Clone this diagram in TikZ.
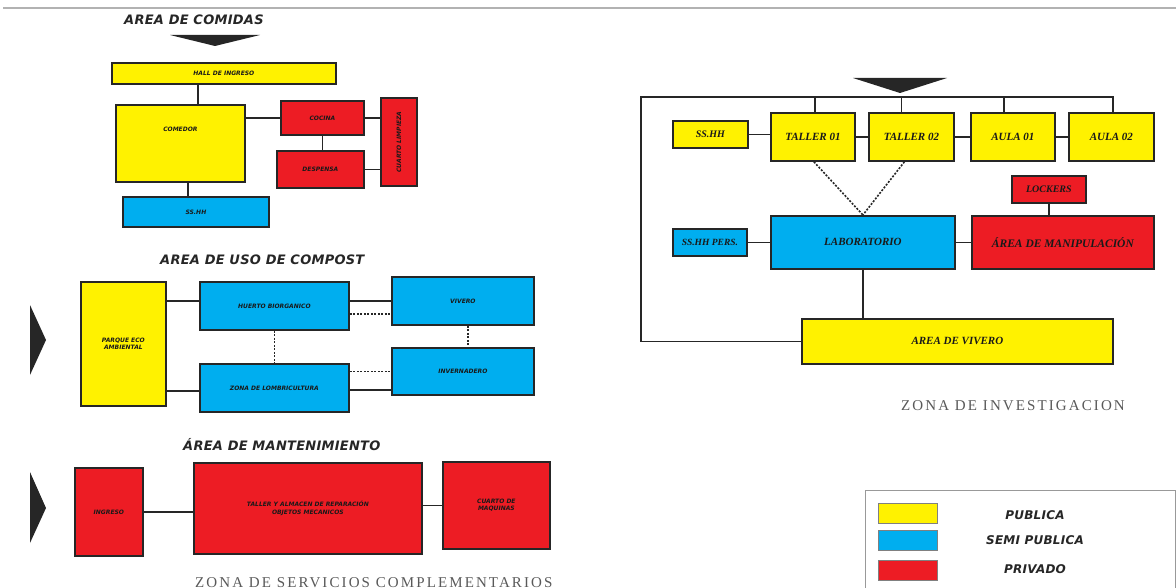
\documentclass[tikz,border=0pt]{standalone}
\usepackage{fontspec}
\setmainfont{Liberation Serif}
\newfontfamily\titlef[LetterSpace=2]{DejaVu Sans}
\newfontfamily\smallf{DejaVu Sans}
\newfontfamily\boxf{Liberation Serif}
\newfontfamily\capf[LetterSpace=14]{Liberation Serif}
\usetikzlibrary{calc}
\definecolor{pubY}{HTML}{FFF200}
\definecolor{semiB}{HTML}{00AEEF}
\definecolor{privR}{HTML}{ED1C24}
\tikzset{
  box/.style={draw=black!85, line width=1.8pt, inner sep=1pt, align=center, anchor=north west, text=black!90},
  pub/.style={box, fill=pubY},
  semi/.style={box, fill=semiB},
  priv/.style={box, fill=privR},
  tiny/.style={font=\smallf\bfseries\itshape\fontsize{6}{7.5}\selectfont},
  med/.style={font=\boxf\bfseries\itshape\fontsize{11}{12}\selectfont},
  conn/.style={draw=black!85, line width=1.5pt},
  dconn/.style={draw=black!85, line width=1.8pt, dash pattern=on 2pt off 1.5pt},
  tri/.style={fill=black!85, draw=none},
  ttl/.style={font=\titlef\bfseries\itshape\fontsize{13}{15}\selectfont, text=black!85, inner sep=0, anchor=base west},
  capt/.style={font=\capf\fontsize{15}{17}\selectfont, text=black!65, inner sep=0, anchor=base west},
  leg/.style={font=\titlef\bfseries\itshape\fontsize{12}{14}\selectfont, text=black!85, inner sep=0},
  swatch/.style={draw=black!50, line width=1pt, anchor=north west, minimum width=59pt, minimum height=20pt, inner sep=0}
}
\begin{document}
\begin{tikzpicture}[x=1pt,y=-1pt]
\useasboundingbox (0,0) rectangle (1176,588);
% top rule
\draw[black!30, line width=1.5pt] (3,8) -- (1176,8);

% ---------- AREA DE COMIDAS ----------
\node[ttl] (t1title) at (124,25) {AREA DE COMIDAS};
\fill[tri] (170,35) -- (260,35) -- (215,46) -- cycle;
\node[pub, tiny, minimum width=224pt, minimum height=21pt] (hall) at (111,62) {HALL DE INGRESO};
\node[pub, tiny, minimum width=129pt, minimum height=77pt] (comedor) at (115,104) {COMEDOR\\[20pt]\mbox{}};
\node[priv, tiny, minimum width=83pt, minimum height=34pt] (cocina) at (280,100) {COCINA};
\node[priv, tiny, minimum width=87pt, minimum height=37pt] (despensa) at (276,150) {DESPENSA};
\node[priv, minimum width=36pt, minimum height=88pt] (climp) at (380,97) {};
\node[tiny, rotate=90, text=black!90] (climptxt) at (climp.center) {CUARTO LIMPIEZA};
\node[semi, tiny, minimum width=146pt, minimum height=30pt] (sshh1) at (122,196) {SS.HH};

\draw[conn] ([xshift=-26pt]hall.south) -- ([xshift=-26pt]hall.south |- comedor.north);
\draw[conn] (comedor.east |- cocina.west) -- (cocina.west);
\draw[conn] (cocina.south) -- (cocina.south |- despensa.north);
\draw[conn] (cocina.east) -- (climp.west |- cocina.east);
\draw[conn] (despensa.east) -- (climp.west |- despensa.east);
\draw[conn] ([xshift=-8pt]sshh1.north) -- ([xshift=-8pt]sshh1.north |- comedor.south);

% ---------- AREA DE USO DE COMPOST ----------
\node[ttl] (t2title) at (160,265) {AREA DE USO DE COMPOST};
\fill[tri] (30,305) -- (46,340) -- (30,375) -- cycle;
\node[pub, tiny, minimum width=85pt, minimum height=124pt] (parque) at (80,281) {PARQUE ECO\\AMBIENTAL};
\node[semi, tiny, minimum width=149pt, minimum height=48pt] (huerto) at (199,281) {HUERTO BIORGANICO};
\node[semi, tiny, minimum width=149pt, minimum height=48pt] (zona) at (199,363) {ZONA DE LOMBRICULTURA};
\node[semi, tiny, minimum width=142pt, minimum height=48pt] (vivero) at (391,276) {VIVERO};
\node[semi, tiny, minimum width=142pt, minimum height=47pt] (inver) at (391,347) {INVERNADERO};

\draw[conn] ($(parque.east |- huerto.west)+(0,-5)$) -- ($(huerto.west)+(0,-5)$);
\draw[conn] ($(parque.east |- zona.west)+(0,3)$) -- ($(zona.west)+(0,3)$);
\draw[conn] (huerto.east |- vivero.west) -- (vivero.west);
\draw[dconn] ($(huerto.east)+(0,8)$) -- ($(vivero.west |- huerto.east)+(0,8)$);
\draw[dconn] (zona.east |- inver.west) -- (inver.west);
\draw[conn] ($(zona.east)+(0,2)$) -- ($(inver.west |- zona.east)+(0,2)$);
\draw[dconn] (huerto.south) -- (huerto.south |- zona.north);
\draw[dconn] ([xshift=5pt]vivero.south) -- ([xshift=5pt]vivero.south |- inver.north);

% ---------- AREA DE MANTENIMIENTO ----------
\node[ttl] (t3title) at (183,450) {ÁREA DE MANTENIMIENTO};
\fill[tri] (30,472) -- (46,508) -- (30,543) -- cycle;
\node[priv, tiny, minimum width=68pt, minimum height=88pt] (ingreso) at (74,467) {INGRESO};
\node[priv, tiny, minimum width=228pt, minimum height=91pt] (taller) at (193,462) {TALLER Y ALMACEN DE REPARACIÓN\\OBJETOS MECANICOS};
\node[priv, tiny, minimum width=107pt, minimum height=87pt] (cuartom) at (442,461) {CUARTO DE\\MAQUINAS};
\draw[conn] (ingreso.east) -- (taller.west |- ingreso.east);
\draw[conn] (taller.east |- cuartom.west) -- (cuartom.west);
\node[capt] (cap1) at (195,587) {ZONA DE SERVICIOS COMPLEMENTARIOS};

% ---------- ZONA DE INVESTIGACION ----------
\fill[tri] (853,78) -- (947,78) -- (900,93) -- cycle;
\node[pub, med, font=\boxf\bfseries\itshape\fontsize{10}{11}\selectfont, minimum width=75pt, minimum height=27pt] (ssi) at (672,120) {SS.HH};
\node[pub, med, minimum width=84pt, minimum height=48pt] (ta1) at (770,112) {TALLER 01};
\node[pub, med, minimum width=85pt, minimum height=48pt] (ta2) at (868,112) {TALLER 02};
\node[pub, med, minimum width=84pt, minimum height=48pt] (au1) at (970,112) {AULA 01};
\node[pub, med, minimum width=85pt, minimum height=48pt] (au2) at (1068,112) {AULA 02};
\node[priv, med, font=\boxf\bfseries\itshape\fontsize{10}{11}\selectfont, minimum width=74pt, minimum height=27pt] (lock) at (1011,175) {LOCKERS};
\node[semi, med, minimum width=184pt, minimum height=53pt] (lab) at (770,215) {LABORATORIO};
\node[semi, med, font=\boxf\bfseries\itshape\fontsize{9.5}{11}\selectfont, minimum width=74pt, minimum height=27pt] (sspers) at (672,228) {SS.HH PERS.};
\node[priv, med, font=\boxf\bfseries\itshape\fontsize{11.5}{12}\selectfont, minimum width=182pt, minimum height=53pt] (manip) at (971,215) {ÁREA DE MANIPULACIÓN};
\node[pub, med, minimum width=311pt, minimum height=45pt] (aviv) at (801,318) {AREA DE VIVERO};

\coordinate (ftl) at (641,97);
\coordinate (ftr) at (1113,97);
\draw[conn] (aviv.west) -- (aviv.west -| ftl) -- (ftl) -- (ftr) -- (ftr |- au2.north);
\draw[conn] ([xshift=2pt]ta1.north) -- ([xshift=2pt]ta1.north |- ftl);
\draw[conn] ([xshift=-10pt]ta2.north) -- ([xshift=-10pt]ta2.north |- ftl);
\draw[conn] ([xshift=-9pt]au1.north) -- ([xshift=-9pt]au1.north |- ftl);
\draw[conn] (ssi.east) -- (ta1.west |- ssi.east);
\draw[conn] (ta1.east) -- (ta2.west);
\draw[conn] (ta2.east) -- (au1.west);
\draw[conn] (au1.east) -- (au2.west);
\draw[dconn, line width=1.6pt] ([xshift=1pt]ta1.south) -- (lab.north);
\draw[dconn, line width=1.6pt] ([xshift=-7pt]ta2.south) -- (lab.north);
\draw[conn] (lock.south) -- (lock.south |- manip.north);
\draw[conn] (sspers.east) -- (lab.west |- sspers.east);
\draw[conn] (lab.east) -- (manip.west);
\draw[conn] (lab.south) -- (lab.south |- aviv.north);
\node[capt] (cap2) at (901,410) {ZONA DE INVESTIGACION};

% ---------- LEGEND ----------
\draw[black!40, line width=1pt] (865,490) rectangle (1175,600);
\node[swatch, fill=pubY] (lg1) at (878,503) {};
\node[swatch, fill=semiB] (lg2) at (878,530) {};
\node[swatch, fill=privR] (lg3) at (878,560) {};
\node[leg] (lt1) at (1035,515) {PUBLICA};
\node[leg] (lt2) at (1035,540) {SEMI PUBLICA};
\node[leg] (lt3) at (1035,569) {PRIVADO};
\end{tikzpicture}
\end{document}
